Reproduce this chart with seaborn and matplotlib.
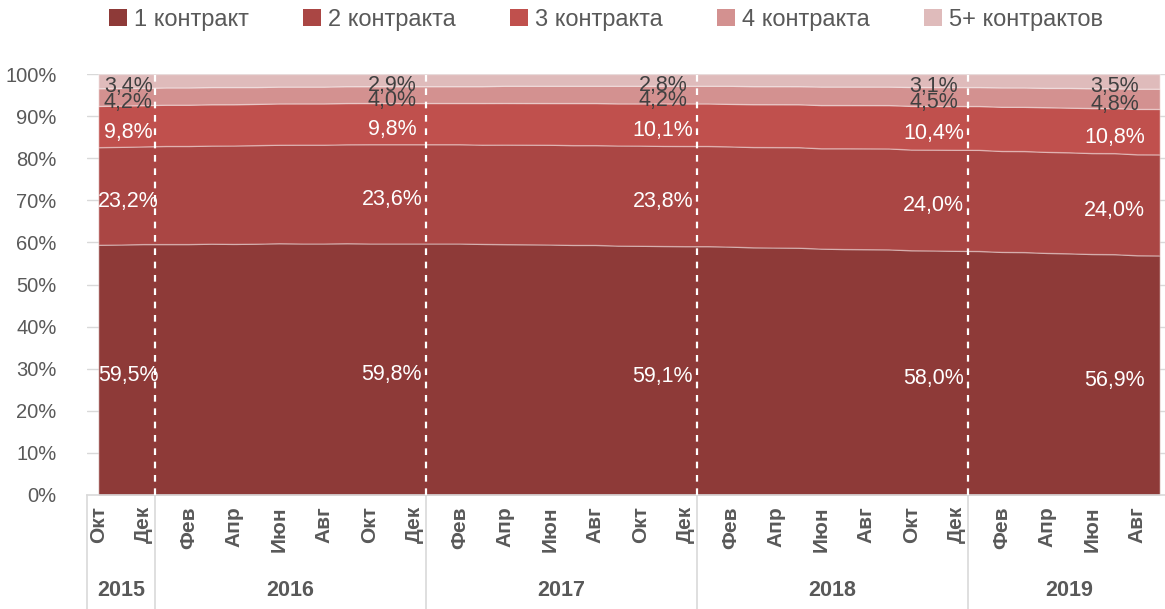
import numpy as np
import pandas as pd
import matplotlib
matplotlib.use('Agg')
import matplotlib.pyplot as plt
from matplotlib.patches import Patch
import seaborn as sns

# monthly shares, Oct 2015 .. Sep 2019 (%)
months = pd.period_range('2015-10', '2019-09', freq='M')
month_names = ['Янв', 'Фев', 'Мар', 'Апр', 'Май', 'Июн',
               'Июл', 'Авг', 'Сен', 'Окт', 'Ноя', 'Дек']
years = ['2015', '2016', '2017', '2018', '2019']

c1 = [59.5, 59.5, 59.6,
      59.6, 59.6, 59.7, 59.7, 59.7, 59.8, 59.8, 59.8, 59.8, 59.8, 59.8, 59.8,
      59.8, 59.8, 59.7, 59.7, 59.6, 59.5, 59.4, 59.4, 59.3, 59.2, 59.2, 59.1,
      59.1, 59.0, 59.0, 58.9, 58.8, 58.7, 58.6, 58.5, 58.4, 58.3, 58.2, 58.0,
      57.9, 57.8, 57.7, 57.5, 57.4, 57.3, 57.2, 57.0, 56.9]
c2 = [23.2, 23.2, 23.2,
      23.3, 23.3, 23.3, 23.4, 23.4, 23.4, 23.5, 23.5, 23.5, 23.6, 23.6, 23.6,
      23.6, 23.6, 23.6, 23.7, 23.7, 23.7, 23.7, 23.7, 23.8, 23.8, 23.8, 23.8,
      23.8, 23.8, 23.9, 23.9, 23.9, 23.9, 24.0, 24.0, 24.0, 24.0, 24.0, 24.0,
      24.0, 24.0, 24.0, 24.0, 24.0, 24.0, 24.0, 24.0, 24.0]
c3 = [9.8, 9.8, 9.8,
      9.8, 9.8, 9.8, 9.8, 9.8, 9.8, 9.8, 9.8, 9.8, 9.8, 9.8, 9.8,
      9.8, 9.8, 9.9, 9.9, 9.9, 9.9, 10.0, 10.0, 10.0, 10.0, 10.1, 10.1,
      10.1, 10.1, 10.2, 10.2, 10.2, 10.3, 10.3, 10.3, 10.3, 10.4, 10.4, 10.4,
      10.4, 10.5, 10.5, 10.6, 10.6, 10.7, 10.7, 10.8, 10.8]
c4 = [4.2, 4.2, 4.1,
      4.1, 4.1, 4.1, 4.1, 4.0, 4.0, 4.0, 4.0, 4.0, 4.0, 4.0, 4.0,
      4.0, 4.0, 4.0, 4.1, 4.1, 4.1, 4.1, 4.1, 4.2, 4.2, 4.2, 4.2,
      4.2, 4.3, 4.3, 4.3, 4.3, 4.4, 4.4, 4.4, 4.4, 4.5, 4.5, 4.5,
      4.5, 4.6, 4.6, 4.6, 4.7, 4.7, 4.7, 4.8, 4.8]
c5 = [3.4, 3.3, 3.3,
      3.2, 3.2, 3.1, 3.1, 3.1, 3.0, 3.0, 3.0, 2.9, 2.9, 2.9, 2.9,
      2.9, 2.9, 2.9, 2.8, 2.8, 2.8, 2.8, 2.8, 2.8, 2.8, 2.8, 2.8,
      2.8, 2.8, 2.9, 2.9, 2.9, 3.0, 3.0, 3.0, 3.0, 3.1, 3.1, 3.1,
      3.1, 3.2, 3.2, 3.3, 3.3, 3.4, 3.4, 3.5, 3.5]

series = ['1 контракт', '2 контракта', '3 контракта', '4 контракта', '5+ контрактов']
colors = ['#8E3A38', '#AA4644', '#C0504D', '#D39190', '#DFBBBB']
label_colors = ['white', 'white', 'white', '#404040', '#404040']

# points that carry data labels and where the labels sit
label_idx = [0, 14, 26, 38, 47]
label_x = [1.33, 13.0, 25.0, 37.0, 45.0]

df = pd.DataFrame(dict(zip(series, [c1, c2, c3, c4, c5])))
share = df.div(df.sum(axis=1), axis=0) * 100

sns.set_theme(style='white')
plt.rcParams['font.family'] = ['Liberation Sans Narrow', 'Liberation Sans', 'DejaVu Sans']
grey = '#595959'

fig = plt.figure(figsize=(11.65, 6.09), dpi=100)
ax = fig.add_axes([87 / 1165, 114 / 609, (1171 - 87) / 1165, (495 - 74) / 609])

x = np.arange(len(months))
ax.stackplot(x, share.T.values, colors=colors, edgecolor=(1, 1, 1, 0.35),
             linewidth=1, zorder=2)

ax.set_xlim(-0.5, 47.5)
ax.set_ylim(0, 100)

for v in range(10, 101, 10):
    ax.axhline(v, color='#d9d9d9', lw=1, zorder=1)

ax.set_yticks(range(0, 101, 10))
ax.set_yticklabels([f'{v}%' for v in range(0, 101, 10)], fontsize=14.5, color=grey)
ax.tick_params(axis='y', length=0, pad=22)

ax.set_xticks(x[::2])
ax.set_xticklabels([month_names[m.month - 1] for m in months[::2]],
                   rotation=90, fontsize=15, fontweight='bold', color=grey)
ax.tick_params(axis='x', length=0, pad=8)

for s in ['top', 'right', 'left']:
    ax.spines[s].set_visible(False)
ax.spines['bottom'].set_color('#d9d9d9')
ax.spines['bottom'].set_linewidth(1.2)

# year boundaries
bounds = [-0.5, 2.5, 14.5, 26.5, 38.5, 47.5]
for b in bounds[1:-1]:
    ax.axvline(b, color='white', ls=(0, (3, 3)), lw=1.6, zorder=3)
trans = ax.get_xaxis_transform()
for b in bounds[:-1]:
    ax.plot([b, b], [0, -0.28], transform=trans, color='#d9d9d9', lw=1.2,
            clip_on=False)
for i, yr in enumerate(years):
    ax.text((bounds[i] + bounds[i + 1]) / 2, -(590 - 495) / 421, yr,
            transform=trans, ha='center', va='center', fontsize=15.5,
            fontweight='bold', color=grey)

# data labels
cum = share.cumsum(axis=1)
for j, col in enumerate(series):
    for i, lx in zip(label_idx, label_x):
        mid = cum[col].iloc[i] - share[col].iloc[i] / 2
        ax.annotate(f'{df[col].iloc[i]:.1f}%'.replace('.', ','), (lx, mid),
                    xytext=(0, -4), textcoords='offset points',
                    ha='center', va='center', fontsize=15.5,
                    color=label_colors[j], zorder=4)

handles = [Patch(facecolor=c, edgecolor='none') for c in colors]
leg = fig.legend(handles, series, loc='center', bbox_to_anchor=(606 / 1165, 1 - 20 / 609),
                 ncol=5, frameon=False, fontsize=17, handlelength=0.75,
                 handleheight=0.75, handletextpad=0.3, columnspacing=2.3)
for t in leg.get_texts():
    t.set_color(grey)

fig.savefig('out.png', dpi=100)
